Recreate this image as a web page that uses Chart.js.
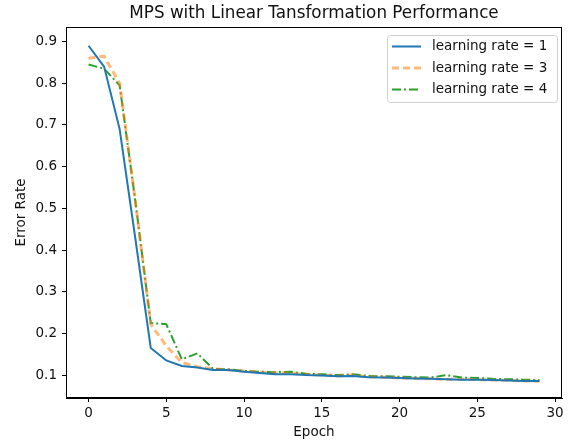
<!DOCTYPE html>
<html>
<head>
<meta charset="utf-8">
<script src="https://cdn.jsdelivr.net/npm/chart.js@4/dist/chart.umd.min.js"></script>
<style>
html,body{margin:0;padding:0;background:#fff;}
#wrap{width:572px;height:443px;}
</style>
</head>
<body>
<div id="wrap"><canvas id="c" width="572" height="443"></canvas></div>
<script>
const titleText = "MPS with Linear Tansformation Performance";
const xLabel = "Epoch";
const yLabel = "Error Rate";
const epochs = Array.from({length: 30}, (_, i) => i);
const labels = ["learning rate = 1", "learning rate = 3", "learning rate = 4"];
const lr1 = [0.89,0.84,0.69,0.43,0.165,0.135,0.122,0.118,0.112,0.112,0.108,0.105,0.102,0.102,0.100,0.099,0.097,0.098,0.095,0.094,0.093,0.092,0.091,0.090,0.089,0.089,0.088,0.087,0.086,0.086];
const lr3 = [0.86,0.865,0.80,0.52,0.222,0.170,0.130,0.120,0.115,0.112,0.110,0.107,0.105,0.105,0.102,0.100,0.098,0.100,0.096,0.095,0.093,0.092,0.091,0.090,0.090,0.089,0.088,0.087,0.086,0.085];
const lr4 = [0.845,0.835,0.795,0.52,0.225,0.222,0.138,0.152,0.115,0.114,0.110,0.108,0.107,0.108,0.103,0.102,0.100,0.102,0.098,0.097,0.096,0.095,0.094,0.100,0.094,0.093,0.091,0.090,0.089,0.088];
const xTicks = [0,5,10,15,20,25,30];
const yTicks = [0.1,0.2,0.3,0.4,0.5,0.6,0.7,0.8,0.9];

const FONT = "'DejaVu Sans', sans-serif";
const TXT = '#111';
const FS = 13.5;

const mk = (arr) => epochs.map((e, i) => ({x: e, y: arr[i]}));

const boxPlugin = {
  id: 'box',
  afterDatasetsDraw(chart) {
    const {ctx, chartArea: a} = chart;
    ctx.save();
    ctx.strokeStyle = '#000';
    ctx.lineWidth = 1;
    ctx.strokeRect(a.left + 0.5, a.top + 0.5, a.right - a.left - 1, a.bottom - a.top - 1);
    ctx.restore();
  }
};

const titlePlugin = {
  id: 'ttl',
  afterDraw(chart) {
    const {ctx, chartArea: a} = chart;
    ctx.save();
    ctx.font = "16.8px " + FONT;
    ctx.fillStyle = TXT;
    ctx.textAlign = 'center';
    ctx.textBaseline = 'middle';
    ctx.fillText(titleText, (a.left + a.right) / 2, 14);
    ctx.restore();
  }
};

const legendPlugin = {
  id: 'lgd',
  afterDraw(chart) {
    const {ctx} = chart;
    const x0 = 387, y0 = 35, w = 170, h = 67;
    ctx.save();
    ctx.fillStyle = 'rgba(255,255,255,0.85)';
    ctx.strokeStyle = '#d0d0d0';
    ctx.lineWidth = 1;
    ctx.beginPath();
    ctx.roundRect(x0 + 0.5, y0 + 0.5, w, h, 3);
    ctx.fill();
    ctx.stroke();
    ctx.font = FS + "px " + FONT;
    ctx.textBaseline = 'middle';
    ctx.textAlign = 'left';
    chart.data.datasets.forEach((ds, i) => {
      const yy = y0 + 11.5 + i * 21.5;
      ctx.beginPath();
      ctx.strokeStyle = ds.borderColor;
      ctx.lineWidth = ds.borderWidth;
      ctx.setLineDash(ds.borderDash || []);
      ctx.moveTo(x0 + 5, yy);
      ctx.lineTo(x0 + 34, yy);
      ctx.stroke();
      ctx.setLineDash([]);
      ctx.fillStyle = TXT;
      ctx.fillText(ds.label, x0 + 45, yy);
    });
    ctx.restore();
  }
};

new Chart(document.getElementById('c'), {
  type: 'line',
  data: {
    datasets: [
      {label: labels[0], data: mk(lr1), borderColor: '#1f77b4', borderWidth: 2, pointRadius: 0, fill: false, tension: 0},
      {label: labels[1], data: mk(lr3), borderColor: 'rgba(255,127,14,0.55)', borderWidth: 3, borderDash: [7,4], pointRadius: 0, fill: false, tension: 0},
      {label: labels[2], data: mk(lr4), borderColor: '#2ca02c', borderWidth: 2, borderDash: [9,3,2,3], pointRadius: 0, fill: false, tension: 0}
    ]
  },
  options: {
    responsive: false,
    animation: false,
    layout: {padding: {top: 27, right: 10, left: 0, bottom: 0}},
    plugins: {legend: {display: false}, title: {display: false}, tooltip: {enabled: false}},
    scales: {
      x: {
        type: 'linear',
        min: -1.45, max: 30.45,
        afterBuildTicks: (s) => { s.ticks = xTicks.map(v => ({value: v})); },
        afterFit: (s) => { s.height = 45; },
        grid: {drawOnChartArea: false, drawTicks: true, tickLength: 4, color: '#000'},
        border: {display: true, color: '#000'},
        ticks: {color: TXT, font: {family: FONT, size: FS}, padding: 3, maxRotation: 0},
        title: {display: true, text: xLabel, color: TXT, font: {family: FONT, size: FS}, padding: {top: 0, bottom: 2}}
      },
      y: {
        type: 'linear',
        min: 0.045, max: 0.935,
        afterBuildTicks: (s) => { s.ticks = yTicks.map(v => ({value: v})); },
        afterFit: (s) => { s.width = 66; },
        grid: {drawOnChartArea: false, drawTicks: true, tickLength: 4, color: '#000'},
        border: {display: true, color: '#000'},
        ticks: {color: TXT, font: {family: FONT, size: FS}, padding: 5, callback: (v) => v.toFixed(1)},
        title: {display: true, text: yLabel, color: TXT, font: {family: FONT, size: FS}, padding: {top: 13, bottom: 0}}
      }
    }
  },
  plugins: [boxPlugin, titlePlugin, legendPlugin]
});
</script>
</body>
</html>
